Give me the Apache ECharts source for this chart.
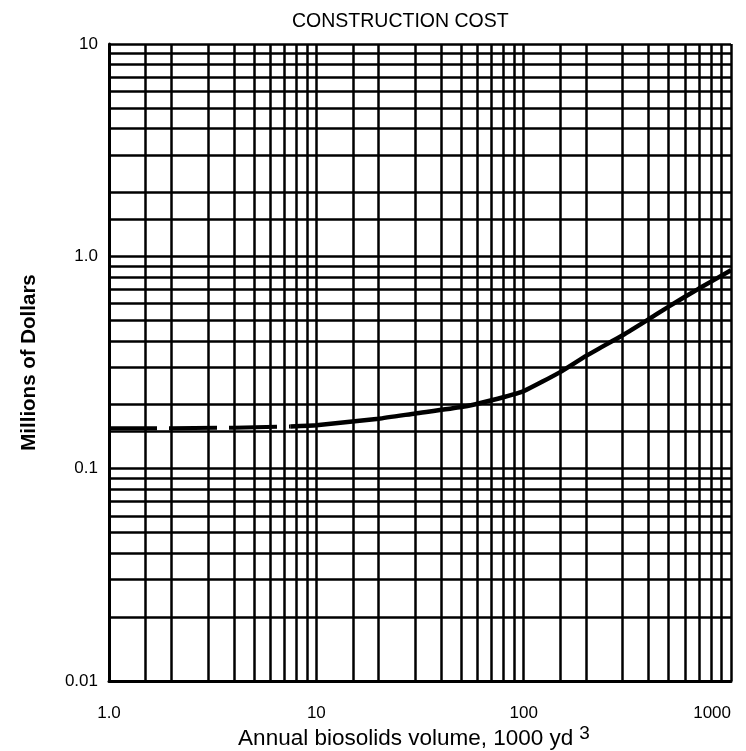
<!DOCTYPE html>
<html>
<head>
<meta charset="utf-8">
<script src="https://cdn.jsdelivr.net/npm/echarts@6/dist/echarts.min.js"></script>
<style>
html,body{margin:0;padding:0;background:#fff;}
#chart{width:746px;height:751px;}
</style>
</head>
<body>
<div id="chart"></div>
<script>
// Data
const dashedX = [1, 2, 4, 7.5];
const dashedY = [0.155, 0.155, 0.156, 0.158];
const solidX = [7.5, 10, 20, 30, 50, 70, 100, 150, 200, 300, 400, 500, 700, 1000];
const solidY = [0.158, 0.160, 0.172, 0.182, 0.195, 0.210, 0.232, 0.285, 0.340, 0.425, 0.505, 0.580, 0.705, 0.860];
// Grid lines (values)
const xGridValues = [1, 1.5, 2, 3, 4, 5, 6, 7, 8, 9, 10, 15, 20, 30, 40, 50, 60, 70, 80, 90, 100, 150, 200, 300, 400, 500, 600, 700, 800, 900, 1000];
const yGridValues = [0.01, 0.015, 0.02, 0.03, 0.04, 0.05, 0.06, 0.07, 0.08, 0.09, 0.1, 0.15, 0.2, 0.3, 0.4, 0.5, 0.6, 0.7, 0.8, 0.9, 1, 1.5, 2, 3, 4, 5, 6, 7, 8, 9, 10];
const xTickLabels = {1: '1.0', 10: '10', 100: '100', 1000: '1000'};
const yTickLabels = {0.01: '0.01', 0.1: '0.1', 1: '1.0', 10: '10'};

function pair(xs, ys) { return xs.map((x, i) => [x, ys[i]]); }
function lookup(table, v) {
  for (const k in table) { if (Math.abs(Math.log10(+k) - Math.log10(v)) < 1e-6) return table[k]; }
  return '';
}

const chart = echarts.init(document.getElementById('chart'), null, {renderer: 'canvas'});
const font = 'Liberation Sans, Arial, sans-serif';
chart.setOption({
  animation: false,
  backgroundColor: '#fff',
  title: {
    text: 'CONSTRUCTION COST',
    left: 287,
    top: 7,
    textStyle: {fontFamily: font, fontSize: 19.5, fontWeight: 'normal', color: '#000'}
  },
  grid: {left: 109, right: 15, top: 44, bottom: 70, containLabel: false, outerBoundsMode: 'none'},
  xAxis: {
    type: 'log', logBase: 10, min: 1, max: 1000,
    splitLine: {show: false},
    axisTick: {show: false},
    axisLine: {show: true, lineStyle: {color: '#000', width: 3}},
    axisLabel: {fontFamily: font, fontSize: 17, color: '#000', margin: 24,
      alignMaxLabel: 'right',
      formatter: v => lookup(xTickLabels, v)},
    name: '{a|Annual biosolids volume, 1000 yd}{s|3}',
    nameLocation: 'middle',
    nameGap: 43,
    nameMoveOverlap: false,
    nameTextStyle: {
      padding: [0, 12, 0, 0],
      rich: {
        a: {fontFamily: font, fontSize: 22.5, color: '#000', verticalAlign: 'bottom', lineHeight: 26},
        s: {fontFamily: font, fontSize: 19, color: '#000', verticalAlign: 'top', lineHeight: 26, padding: [0, 0, 10, 6]}
      }
    }
  },
  yAxis: {
    type: 'log', logBase: 10, min: 0.01, max: 10,
    splitLine: {show: false},
    axisTick: {show: false},
    axisLine: {show: true, lineStyle: {color: '#000', width: 3}},
    axisLabel: {fontFamily: font, fontSize: 17, color: '#000', margin: 11,
      formatter: v => lookup(yTickLabels, v)},
    name: 'Millions of Dollars',
    nameLocation: 'middle',
    nameGap: 69,
    nameMoveOverlap: false,
    nameTextStyle: {fontFamily: font, fontSize: 20.5, fontWeight: 'bold', color: '#000'}
  },
  series: [
    {
      type: 'line', silent: true, symbol: 'none', data: [],
      markLine: {
        silent: true, symbol: 'none', label: {show: false},
        lineStyle: {color: '#000', width: 2.5, type: 'solid'},
        data: xGridValues.map(v => ({xAxis: v})).concat(yGridValues.map(v => ({yAxis: v})))
      }
    },
    {
      type: 'line', symbol: 'none', data: pair(dashedX, dashedY),
      lineStyle: {color: '#000', width: 4, type: [48, 12]}
    },
    {
      type: 'line', symbol: 'none', smooth: 0.15, data: pair(solidX, solidY),
      lineStyle: {color: '#000', width: 4.5}
    }
  ]
});
</script>
</body>
</html>
